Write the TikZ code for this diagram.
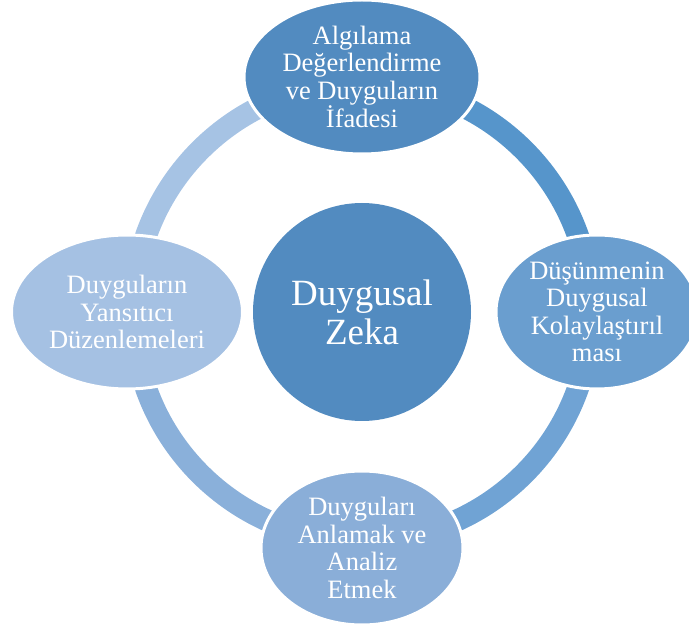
\documentclass[tikz,border=0pt]{standalone}
\usepackage{fontspec}
\setmainfont{Liberation Serif}
\usetikzlibrary{shapes.geometric}

% fills of the five discs
\definecolor{cCore}{RGB}{82,139,192}
\definecolor{cTop}{RGB}{82,139,192}
\definecolor{cRight}{RGB}{106,158,207}
\definecolor{cBottom}{RGB}{138,174,216}
\definecolor{cLeft}{RGB}{165,193,227}
% colours of the four quarters of the ring
\definecolor{cArcTR}{RGB}{86,149,203}
\definecolor{cArcBR}{RGB}{112,163,212}
\definecolor{cArcBL}{RGB}{138,176,218}
\definecolor{cArcTL}{RGB}{166,195,228}

\begin{document}
\begin{tikzpicture}[x=1pt,y=1pt,
  petal/.style={ellipse, draw=white, line width=3pt, inner sep=0pt,
    text=white, align=center, font=\fontsize{26.5}{27.5}\selectfont},
  core/.style={circle, fill=cCore, inner sep=0pt, minimum size=218pt,
    text=white, align=center, font=\fontsize{37}{39}\selectfont},
  ringarc/.style={line width=22pt}]
\useasboundingbox (0,0) rectangle (689,625);

% centre of the cycle
\coordinate (ctr) at (362,313);

% ring, one quarter per colour
\draw[ringarc, draw=cArcTL] (ctr) ++(90:229)  arc[start angle=90,  end angle=180, radius=229];
\draw[ringarc, draw=cArcTR] (ctr) ++(0:229)   arc[start angle=0,   end angle=90,  radius=229];
\draw[ringarc, draw=cArcBR] (ctr) ++(270:229) arc[start angle=270, end angle=360, radius=229];
\draw[ringarc, draw=cArcBL] (ctr) ++(180:229) arc[start angle=180, end angle=270, radius=229];

% central disc
\node[core] (ez) at (ctr) {Duygusal\\Zeka};

% the four branches
\node[petal, fill=cTop, minimum width=236pt, minimum height=154pt] (algi) at (362,548)
  {Algılama\\Değerlendirme\\ve Duyguların\\İfadesi};
\node[petal, fill=cRight, minimum width=202pt, minimum height=154pt] (dusun) at (597,313)
  {Düşünmenin\\Duygusal\\Kolaylaştırıl\\ması};
\node[petal, fill=cBottom, minimum width=202pt, minimum height=154pt] (anla) at (362,77)
  {Duyguları\\Anlamak ve\\Analiz\\Etmek};
\node[petal, fill=cLeft, minimum width=231pt, minimum height=154pt] (yans) at (127,313)
  {Duyguların\\Yansıtıcı\\Düzenlemeleri};
\end{tikzpicture}
\end{document}
